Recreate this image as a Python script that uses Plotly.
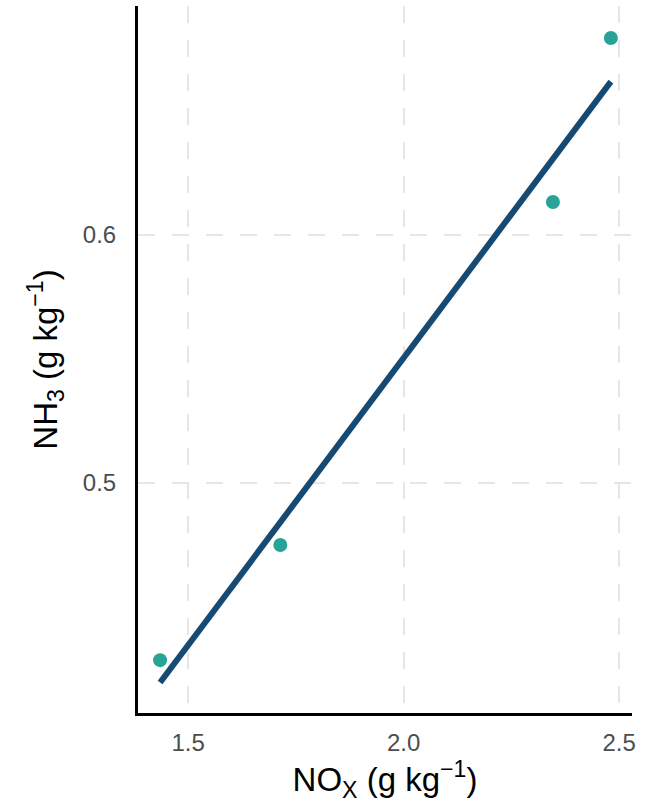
import numpy as np
import plotly.graph_objects as go

nox = [1.435, 1.714, 2.3465, 2.481]
nh3 = [0.4286, 0.475, 0.6133, 0.6794]
x_ticks = [1.5, 2.0, 2.5]
x_tick_labels = ["1.5", "2.0", "2.5"]
y_ticks = [0.5, 0.6]
y_tick_labels = ["0.5", "0.6"]

slope, intercept = np.polyfit(nox, nh3, 1)
xl = np.array([min(nox), max(nox)])
yl = slope * xl + intercept

fig = go.Figure()
fig.add_trace(go.Scatter(x=xl, y=yl, mode="lines",
                         line=dict(color="#164a72", width=6), showlegend=False))
fig.add_trace(go.Scatter(x=nox, y=nh3, mode="markers",
                         marker=dict(color="#27a397", size=14), showlegend=False))

grid = dict(showgrid=True, gridcolor="#e6e6e6", gridwidth=2, griddash="17px,17px")
fig.update_layout(
    width=649, height=803,
    margin=dict(l=138, r=17, t=6, b=90),
    plot_bgcolor="white", paper_bgcolor="white",
    font=dict(family="Liberation Sans, Arial, sans-serif"),
    xaxis=dict(range=[1.3837, 2.530], tickvals=x_ticks, ticktext=x_tick_labels,
               showline=True, linecolor="black", linewidth=3, zeroline=False,
               ticks="", ticklabelstandoff=6, tickfont=dict(size=24, color="#4d4d4d"),
               title=dict(text="NO<sub>X</sub> (g kg<sup>−1</sup>)", font=dict(size=33, color="black"), standoff=8),
               **grid),
    yaxis=dict(range=[0.4073, 0.6923], tickvals=y_ticks, ticktext=y_tick_labels,
               showline=True, linecolor="black", linewidth=3, zeroline=False,
               ticks="", ticklabelstandoff=14, tickfont=dict(size=24, color="#4d4d4d"),
               title=dict(text="NH<sub>3</sub> (g kg<sup>−1</sup>)", font=dict(size=33, color="black"), standoff=16),
               **grid),
)
fig.write_html("out.html", config={"displayModeBar": False},
               post_script="document.body.style.margin='0px';")
